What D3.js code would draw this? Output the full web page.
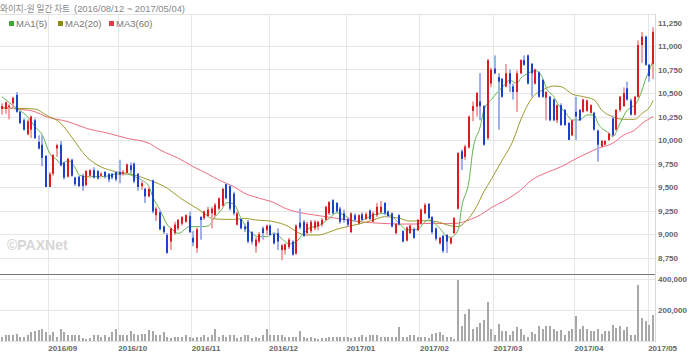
<!DOCTYPE html>
<html>
<head>
<meta charset="utf-8">
<script src="https://cdn.jsdelivr.net/npm/d3@7"></script>
<style>
body { margin: 0; background: #fff; }
svg { display: block; }
</style>
</head>
<body>
<script>

// daily candles, index 0 = 2016/08/12
var opens = [10330,10330,10350,10390,10480,10300,10210,10060,10110,10210,9980,9950,9830,9500,9640,9910,9950,9760,9610,9790,
  9600,9610,9620,9520,9620,9680,9670,9620,9660,9640,9640,9660,9660,9640,9650,9730,9750,9640,9510,9480,
  9400,9570,9200,9230,9080,8990,8920,9010,9060,9110,9130,9190,8960,8850,9180,9170,9190,9220,9200,9270,
  9300,9530,9510,9430,9100,9160,9080,9130,9020,8870,8920,9060,9040,9090,9000,9010,8830,8830,8860,8920,
  8790,9120,9130,9010,9030,9060,9080,9100,9150,9220,9360,9330,9270,9220,9160,9020,9200,9110,9210,9160,
  9250,9130,9200,9230,9330,9240,9220,9010,9200,9030,8930,9010,9050,9040,9110,9220,9320,9180,9060,8900,
  8980,8990,8900,9010,9270,9880,9820,9920,10310,10355,10410,10360,10020,10600,10760,10670,10650,10570,10710,10570,
  10510,10710,10850,10900,10810,10600,10720,10640,10450,10460,10430,10210,10370,10320,10180,10050,10300,10320,10300,10310,
  10290,10290,10100,9930,9950,10000,10230,10110,10320,10360,10550,10420,10270,10460,11010,11100,10800,10810];
var highs = [10390,10410,10380,10460,10510,10310,10230,10220,10260,10230,10050,10050,9840,9660,9850,9960,9990,9770,9810,9800,
  9610,9620,9640,9680,9690,9710,9680,9660,9670,9650,9650,9670,9790,9680,9750,9760,9760,9650,9560,9490,
  9500,9580,9290,9250,9090,9010,9070,9130,9160,9190,9210,9240,9030,9070,9190,9250,9290,9290,9330,9390,
  9490,9540,9520,9450,9240,9170,9110,9150,9030,8970,9020,9080,9100,9100,9020,9060,8890,8900,8960,8930,
  9100,9270,9150,9130,9150,9150,9140,9170,9300,9350,9370,9340,9290,9260,9180,9230,9220,9210,9230,9230,
  9260,9240,9330,9350,9340,9250,9230,9120,9210,9040,9080,9100,9070,9160,9270,9330,9330,9190,9070,8970,
  8990,9000,8970,9180,9870,9900,9950,10260,10410,10510,10710,10370,10860,10770,10900,10710,10660,10810,10750,10600,
  10740,10860,10900,10910,10820,10760,10730,10650,10520,10470,10440,10380,10390,10330,10190,10220,10460,10330,10440,10430,
  10380,10300,10110,10000,10000,10080,10260,10330,10470,10560,10620,10440,10470,11060,11150,11110,10810,11200];
var lows = [10270,10280,10220,10330,10290,10170,10100,10050,10020,10010,9900,9720,9500,9500,9620,9820,9720,9580,9600,9610,
  9510,9500,9460,9510,9600,9590,9580,9600,9590,9550,9580,9560,9540,9620,9630,9640,9540,9460,9470,9330,
  9390,9220,9140,9040,9000,8790,8830,8990,9040,9090,9120,9010,8870,8800,8940,9150,9180,9060,9180,9250,
  9290,9370,9250,9200,9090,9050,9020,8900,8890,8800,8900,8940,8990,8980,8890,8830,8720,8780,8840,8770,
  8780,9050,8970,8980,9010,9040,9040,9080,9140,9200,9210,9230,9110,9120,9080,9010,9130,9100,9140,9150,
  9150,9120,9180,9220,9200,9180,9070,8990,9090,8910,8920,9000,8950,9030,9100,9210,9160,9000,8930,8890,
  8800,8800,8890,9000,9260,9680,9790,9910,10200,10250,10210,9940,10000,10560,10700,10110,10450,10560,10510,10430,
  10300,10700,10790,10590,10460,10590,10450,10450,10210,10200,10200,10180,10150,10150,10000,10040,10000,10200,10290,10300,
  10280,10100,9770,9920,9940,9990,10040,10100,10300,10350,10420,10260,10260,10450,10820,10790,10620,10650];
var closes = [10360,10400,10365,10450,10300,10180,10110,10200,10250,10020,9910,9810,9500,9640,9840,9945,9730,9600,9800,9620,
  9530,9510,9510,9670,9680,9600,9590,9640,9610,9580,9600,9580,9630,9660,9740,9680,9560,9500,9540,9400,
  9480,9240,9270,9050,9020,8800,9060,9100,9150,9180,9200,9020,8910,9050,9150,9240,9260,9270,9310,9380,
  9480,9380,9270,9220,9220,9060,9050,8920,8920,8940,9000,9010,9090,8990,8900,8920,8880,8890,8940,8780,
  9090,9070,8980,9110,9130,9130,9130,9150,9290,9340,9220,9240,9130,9150,9100,9220,9150,9200,9150,9210,
  9160,9220,9290,9290,9220,9190,9080,9110,9100,8920,9070,9090,8960,9150,9260,9310,9170,9020,8950,8960,
  8820,8920,8960,9170,9860,9800,9930,10250,10360,10500,10360,9950,10850,10750,10710,10620,10460,10710,10600,10510,
  10710,10850,10800,10600,10710,10750,10460,10460,10510,10210,10210,10370,10160,10160,10000,10210,10250,10210,10430,10420,
  10370,10110,9950,9990,9990,10070,10050,10320,10460,10500,10430,10270,10460,11010,11100,10800,10680,11150];
var volumes = [26000,39000,33000,39000,44000,22000,26000,39000,55000,59000,66000,77000,55000,33000,55000,22000,72000,55000,39000,35000,
  35000,35000,17000,11000,17000,33000,33000,26000,39000,26000,55000,72000,39000,33000,33000,59000,44000,33000,44000,44000,
  68000,59000,39000,35000,57000,26000,17000,22000,26000,26000,39000,22000,17000,26000,26000,39000,22000,33000,72000,26000,
  33000,26000,39000,35000,17000,22000,39000,33000,17000,26000,17000,33000,72000,33000,39000,39000,33000,26000,26000,22000,
  22000,59000,22000,17000,22000,17000,11000,17000,17000,26000,26000,22000,26000,22000,22000,17000,26000,26000,33000,26000,
  39000,39000,33000,26000,22000,22000,22000,22000,87000,22000,26000,33000,33000,26000,22000,26000,17000,44000,48000,57000,
  39000,22000,22000,11000,394000,94000,175000,208000,72000,87000,114000,131000,251000,77000,39000,105000,61000,61000,39000,61000,
  87000,72000,33000,22000,55000,44000,94000,72000,94000,94000,77000,59000,66000,33000,61000,77000,157000,77000,94000,72000,
  59000,61000,72000,44000,59000,59000,98000,81000,94000,66000,87000,39000,39000,361000,147000,125000,98000,164000];

// moving averages as [day index, price]
var ma1 = [[0,10461],[4,10337],[7,10248],[9,10142],[11,10053],[13,9858],[15,9787],[16,9745],[18,9780],[20,9700],
  [21,9628],[23,9610],[26,9610],[29,9617],[31,9638],[34,9638],[36,9610],[38,9575],[40,9504],[41,9397],
  [43,9255],[45,9096],[46,9060],[48,9007],[51,9078],[54,9078],[56,9085],[58,9184],[60,9273],[61,9333],
  [63,9320],[65,9167],[67,9043],[70,8972],[72,8972],[74,9007],[76,8954],[78,8894],[80,8919],[82,9007],
  [84,9071],[86,9085],[89,9167],[91,9225],[93,9202],[95,9149],[97,9131],[99,9167],[101,9202],[104,9220],
  [106,9184],[108,9114],[110,9043],[113,9050],[115,9131],[116,9149],[119,9060],[121,8972],[122,8965],[124,9043],
  [125,9291],[127,9574],[128,9894],[130,10142],[131,10319],[133,10430],[135,10520],[137,10603],[138,10638],[140,10603],
  [141,10656],[143,10709],[145,10738],[147,10656],[148,10550],[150,10461],[151,10390],[153,10301],[155,10213],[157,10213],
  [159,10266],[161,10266],[162,10177],[165,10071],[166,10035],[168,10177],[170,10319],[171,10348],[172,10372],[174,10532],
  [175,10656],[176,10745],[177,10851]];
var ma2 = [[0,10340],[4,10337],[9,10330],[12,10266],[16,10178],[19,10030],[23,9822],[27,9713],[31,9663],[36,9628],
  [40,9574],[45,9486],[48,9397],[50,9344],[53,9273],[55,9220],[57,9167],[60,9156],[63,9156],[66,9167],
  [69,9149],[73,9138],[75,9121],[78,9078],[80,9025],[83,8990],[86,8990],[88,9007],[91,9050],[93,9071],
  [97,9106],[101,9149],[104,9184],[108,9167],[111,9138],[115,9142],[119,9124],[121,9096],[124,9078],[126,9131],
  [129,9291],[131,9450],[133,9580],[134,9650],[136,9787],[139,10000],[141,10213],[144,10443],[147,10532],[150,10574],
  [152,10567],[155,10489],[158,10461],[161,10426],[163,10319],[166,10248],[169,10220],[172,10220],[174,10284],[176,10348],
  [177,10418]];
var ma3 = [[0,10347],[5,10326],[9,10301],[12,10248],[18,10195],[23,10124],[29,10071],[34,10018],[40,9965],[43,9894],
  [46,9840],[48,9805],[52,9716],[56,9638],[59,9574],[63,9504],[66,9433],[70,9380],[74,9333],[77,9273],
  [81,9227],[85,9202],[88,9184],[91,9167],[94,9149],[99,9124],[103,9114],[108,9106],[112,9106],[117,9114],
  [121,9110],[124,9115],[127,9150],[130,9202],[133,9280],[137,9362],[141,9468],[144,9574],[148,9653],[152,9716],
  [155,9780],[159,9858],[162,9911],[166,9965],[169,10053],[172,10106],[174,10177],[177,10248]];

var priceTicks = [8750,9000,9250,9500,9750,10000,10250,10500,10750,11000,11250];
var volTicks = [200000,400000];
var monthIdx = [13,32,52,73,94,114,134,156,176];
var monthLabels = ["2016/09","2016/10","2016/11","2016/12","2017/01","2017/02","2017/03","2017/04","2017/05"];
var maNames = ["MA1(5)","MA2(20)","MA3(60)"];
var maColors = ["#62b34f","#9c9a2c","#ee6b7f"];
var legendColors = ["#3fa63a","#8c8c12","#e23b45"];

var width = 700, height = 357;
var plotRight = 655, plotTop = 14, sepY = 274, plotBottom = 342;

var svg = d3.select("body").append("svg")
  .attr("width", width)
  .attr("height", height)
  .style("font-family", "'Liberation Sans', Arial, sans-serif");

var n = closes.length;
var xScale = d3.scaleLinear().domain([0, n]).range([0, plotRight]);
var yScale = d3.scaleLinear().domain([8750, 11250]).range([257.5, 22.5]);
var vScale = d3.scaleLinear().domain([0, 400000]).range([340.5, 279]);

function cx(i) { return xScale(i + 0.5); }

// grid
svg.append("g").selectAll("line")
  .data(priceTicks.slice(0, -1))
  .enter().append("line")
  .attr("x1", 0).attr("x2", plotRight)
  .attr("y1", function(d) { return Math.round(yScale(d)) + 0.5; })
  .attr("y2", function(d) { return Math.round(yScale(d)) + 0.5; })
  .style("stroke", "#e6e6e6");

svg.append("g").selectAll("line")
  .data(volTicks)
  .enter().append("line")
  .attr("x1", 0).attr("x2", plotRight)
  .attr("y1", function(d) { return Math.round(vScale(d)) + 0.5; })
  .attr("y2", function(d) { return Math.round(vScale(d)) + 0.5; })
  .style("stroke", "#e6e6e6");

svg.append("g").selectAll("line")
  .data(monthIdx)
  .enter().append("line")
  .attr("x1", function(d) { return Math.round(xScale(d)) + 0.5; })
  .attr("x2", function(d) { return Math.round(xScale(d)) + 0.5; })
  .attr("y1", plotTop).attr("y2", plotBottom)
  .style("stroke", "#e6e6e6");

svg.append("line").attr("x1", 0).attr("x2", plotRight).attr("y1", plotTop + 0.5).attr("y2", plotTop + 0.5).style("stroke", "#e3e3e3");
svg.append("line").attr("x1", plotRight + 0.5).attr("x2", plotRight + 0.5).attr("y1", plotTop).attr("y2", plotBottom).style("stroke", "#d8d8d8");
svg.append("line").attr("x1", 0).attr("x2", plotRight).attr("y1", plotBottom - 0.5).attr("y2", plotBottom - 0.5).style("stroke", "#e3e3e3");
svg.append("line").attr("x1", 0).attr("x2", plotRight).attr("y1", sepY + 0.5).attr("y2", sepY + 0.5).style("stroke", "#777");

// watermark
svg.append("text").attr("x", 7).attr("y", 250).text("\u00a9PAXNet")
  .style("font-size", "14px").style("font-weight", "bold").style("fill", "#d6d6d6");

// volume
svg.append("g").selectAll("rect")
  .data(volumes)
  .enter().append("rect")
  .attr("x", function(d, i) { return Math.round(cx(i) - 1); })
  .attr("width", 2)
  .attr("y", function(d) { return Math.round(vScale(d)); })
  .attr("height", function(d) { return Math.round(vScale(0)) - Math.round(vScale(d)); })
  .style("fill", "#a8a8a8");

// moving averages
var line = d3.line()
  .curve(d3.curveMonotoneX)
  .x(function(d) { return cx(d[0]); })
  .y(function(d) { return yScale(d[1]); });

[ma3, ma2, ma1].forEach(function(ma, k) {
  svg.append("path")
    .attr("d", line(ma))
    .style("fill", "none")
    .style("stroke", maColors[2 - k])
    .style("stroke-width", 1);
});

// candles
var candles = svg.append("g").selectAll("g")
  .data(closes)
  .enter().append("g");

candles.append("rect")
  .attr("x", function(d, i) { return Math.round(cx(i) - 1); })
  .attr("width", 2)
  .attr("y", function(d, i) { return yScale(highs[i]); })
  .attr("height", function(d, i) { return yScale(lows[i]) - yScale(highs[i]); })
  .style("fill", function(d, i) { return d >= opens[i] ? "#f2a3a6" : "#9fb0ea"; });

candles.append("rect")
  .attr("x", function(d, i) { return Math.round(cx(i) - 1); })
  .attr("width", 2)
  .attr("y", function(d, i) { return yScale(Math.max(d, opens[i])); })
  .attr("height", function(d, i) { return Math.max(1, Math.abs(yScale(d) - yScale(opens[i]))); })
  .style("fill", function(d, i) { return d >= opens[i] ? "#dd1c22" : "#1f40cc"; });

// axes
var yAxis = d3.axisRight(yScale).tickValues(priceTicks).tickSize(0).tickPadding(3).tickFormat(d3.format(","));
var vAxis = d3.axisRight(vScale).tickValues(volTicks).tickSize(0).tickPadding(3).tickFormat(d3.format(","));
var xAxis = d3.axisBottom(xScale).tickValues(monthIdx).tickSize(0).tickPadding(4)
  .tickFormat(function(d, i) { return monthLabels[i]; });

svg.append("g").attr("class", "y axis").attr("transform", "translate(" + plotRight + ",0)").call(yAxis);
svg.append("g").attr("class", "v axis").attr("transform", "translate(" + plotRight + ",0)").call(vAxis);
svg.append("g").attr("class", "x axis").attr("transform", "translate(0," + (plotBottom - 1) + ")").call(xAxis);

svg.selectAll(".axis .domain").remove();
svg.selectAll(".axis text")
  .style("font-family", "'Liberation Sans', Arial, sans-serif")
  .style("font-size", "8px")
  .style("font-weight", "bold")
  .style("fill", "#666");
svg.selectAll(".x.axis text").attr("text-anchor", "start");

// title and legend
var title = svg.append("text").attr("y", 12)
  .style("font-size", "9.5px").style("fill", "#888");
title.append("tspan").attr("x", 0).text("와이지-원 일간 차트")
  .attr("textLength", 70).attr("lengthAdjust", "spacingAndGlyphs")
  .style("font-family", "'Noto Sans CJK KR', sans-serif");
title.append("tspan").attr("x", 74).text("(2016/08/12 ~ 2017/05/04)")
  .attr("textLength", 111).attr("lengthAdjust", "spacingAndGlyphs")
  .style("font-family", "'Liberation Sans', Arial, sans-serif");

var legendX = [9, 58, 109];
maNames.forEach(function(name, k) {
  svg.append("rect").attr("x", legendX[k]).attr("y", 21).attr("width", 5).attr("height", 5).style("fill", legendColors[k]);
  svg.append("text").attr("x", legendX[k] + 7).attr("y", 27).text(name)
    .style("font-size", "9.5px").style("fill", "#777");
});

</script>
</body>
</html>
